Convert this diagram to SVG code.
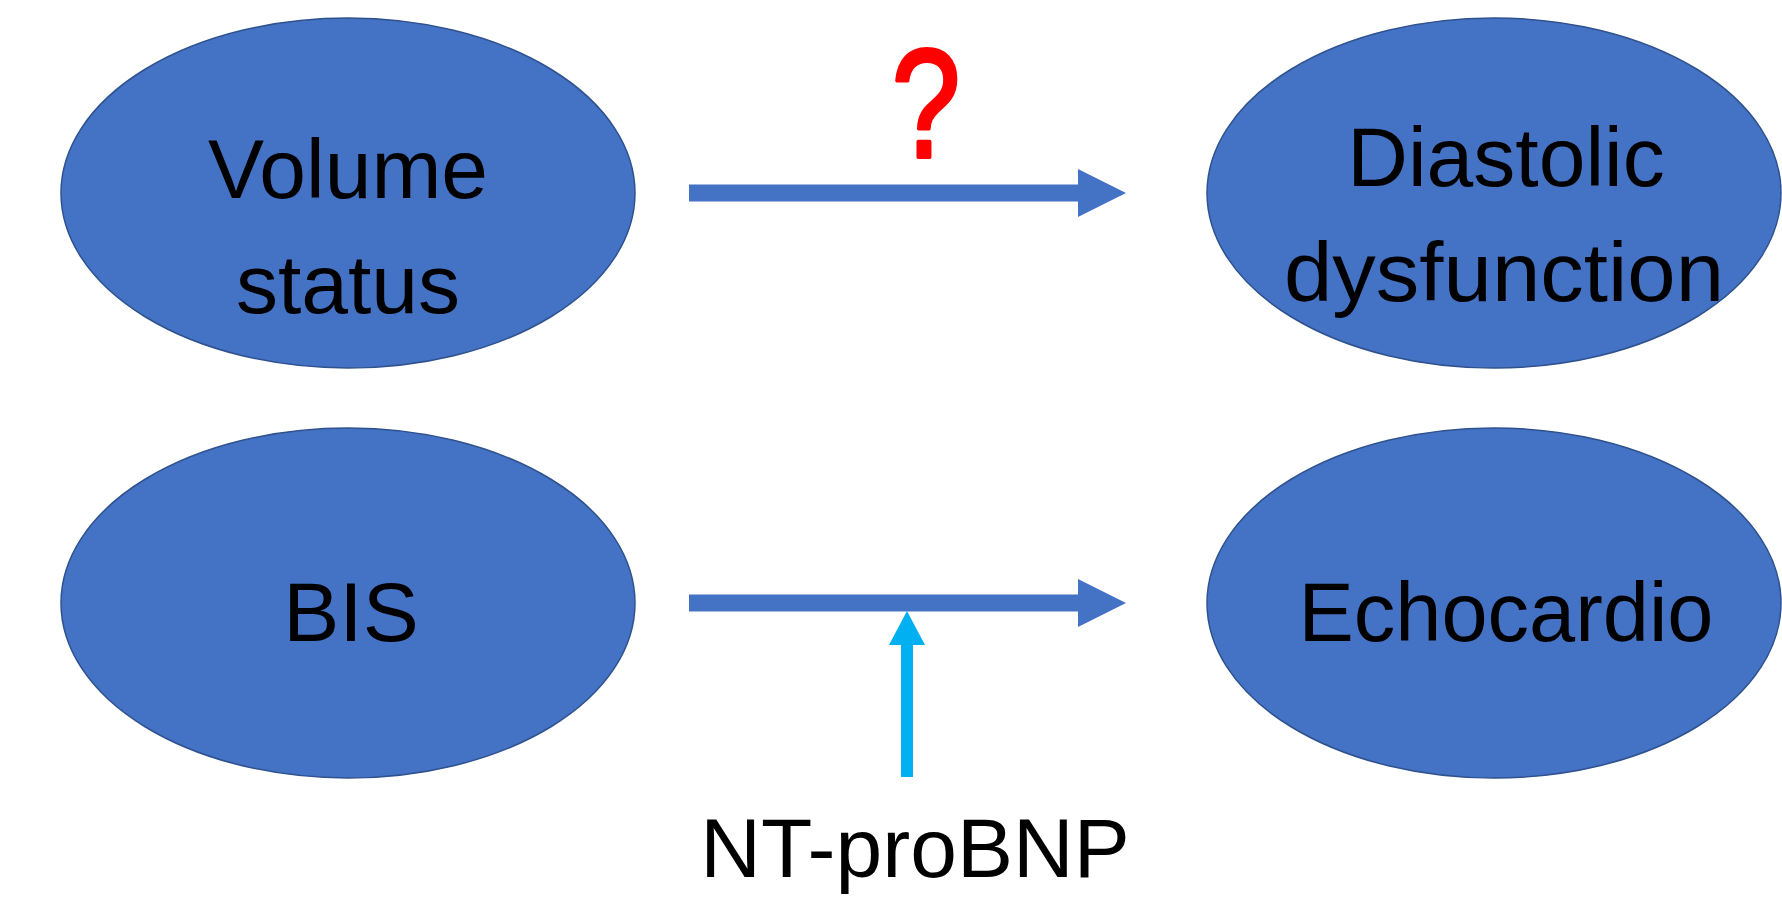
<svg xmlns="http://www.w3.org/2000/svg" width="1782" height="897" viewBox="0 0 1782 897">
<style>
.node ellipse{fill:#4472C4;stroke:#2F528F;stroke-width:1.5}
.lbl{font-family:"Liberation Sans",Arial,sans-serif;font-size:84px;fill:#000;text-anchor:middle}
.blk{fill:#4472C4}
.cy{fill:#00B0F0}
</style>
<rect width="1782" height="897" fill="#fff"/>
<g id="connectors">
<polygon class="blk" points="689,184.5 1078,184.5 1078,169 1126,193 1078,217 1078,201.5 689,201.5"/>
<polygon class="blk" points="689,594.5 1078,594.5 1078,579 1126,603 1078,627 1078,611.5 689,611.5"/>
<polygon class="cy" points="901,777 901,645 889,645 907,611 925,645 913,645 913,777"/>
<text x="0" y="157" transform="translate(926 0) scale(0.8 1)" style="font-family:'Liberation Sans',Arial,sans-serif;font-size:154px;fill:#FF0000;stroke:#FF0000;stroke-width:4;stroke-linejoin:round;text-anchor:middle">?</text>
</g>
<g id="volume" class="node">
<ellipse cx="348" cy="193" rx="287" ry="175"/>
<text class="lbl" x="348" y="198">Volume</text>
<text class="lbl" x="348" y="313">status</text>
</g>
<g id="diastolic" class="node">
<ellipse cx="1494" cy="193" rx="287" ry="175"/>
<text class="lbl" x="1506" y="186">Diastolic</text>
<text class="lbl" x="1504" y="301" textLength="440" lengthAdjust="spacingAndGlyphs">dysfunction</text>
</g>
<g id="bis" class="node">
<ellipse cx="348" cy="603" rx="287" ry="175"/>
<text class="lbl" x="351" y="641">BIS</text>
</g>
<g id="echo" class="node">
<ellipse cx="1494" cy="603" rx="287" ry="175"/>
<text class="lbl" x="1506" y="641" textLength="415" lengthAdjust="spacingAndGlyphs">Echocardio</text>
</g>
<g id="ntprobnp">
<text class="lbl" x="915" y="877">NT-proBNP</text>
</g>
</svg>
